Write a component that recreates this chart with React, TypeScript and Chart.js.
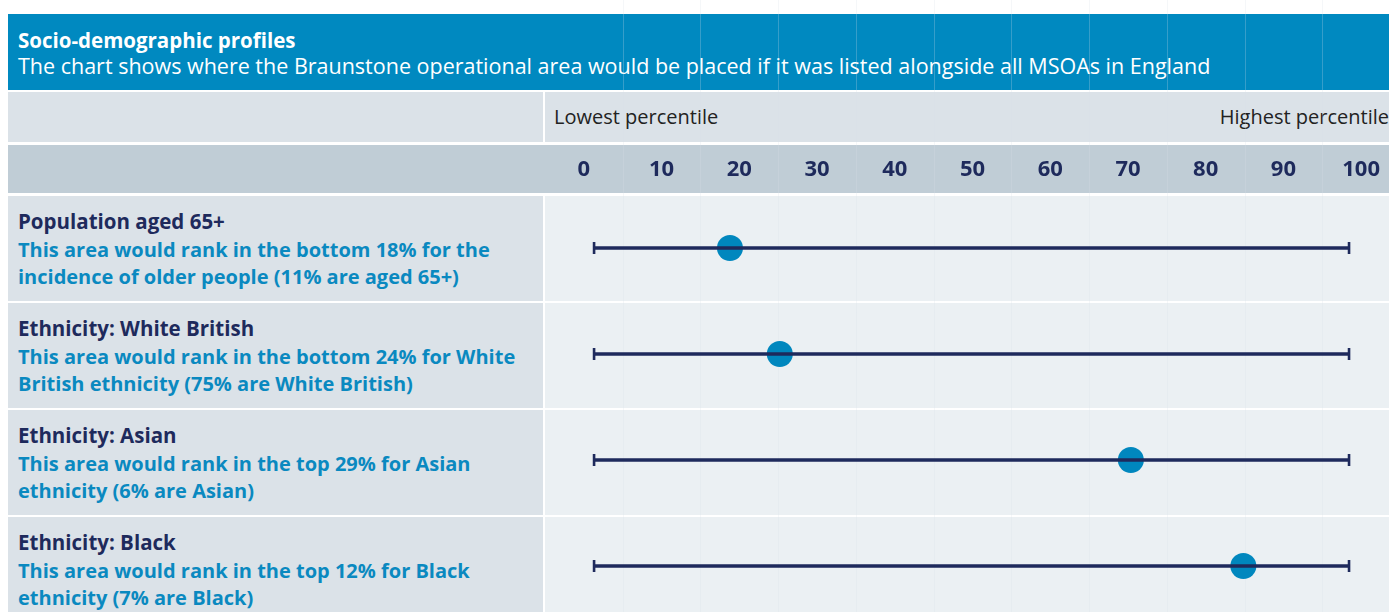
import React, { useEffect, useRef } from "react";
import { Chart, registerables } from "chart.js";

Chart.register(...registerables);

// ---- data ----
const rowKeys = ["age65", "whiteBritish", "asian", "black"];
const rowTitles = [
  "Population aged 65+",
  "Ethnicity: White British",
  "Ethnicity: Asian",
  "Ethnicity: Black",
];
const rowNotes = [
  "This area would rank in the bottom 18% for the\nincidence of older people (11% are aged 65+)",
  "This area would rank in the bottom 24% for White\nBritish ethnicity (75% are White British)",
  "This area would rank in the top 29% for Asian\nethnicity (6% are Asian)",
  "This area would rank in the top 12% for Black\nethnicity (7% are Black)",
];
const percentiles = [18, 24.6, 71.1, 86];
const rangeLow = [0, 0, 0, 0];
const rangeHigh = [100, 100, 100, 100];
const tickLabels = ["0", "10", "20", "30", "40", "50", "60", "70", "80", "90", "100"];

const titleText = "Socio-demographic profiles";
const subtitleText =
  "The chart shows where the Braunstone operational area would be placed if it was listed alongside all MSOAs in England";
const lowLabel = "Lowest percentile";
const highLabel = "Highest percentile";

// ---- style ----
const FONT = "'Open Sans', sans-serif";
const BLUE = "#0089c0";
const NAVY = "#1e2a5c";
const DOT = "#0087be";
const LIGHT = "#dbe2e8";
const TICKROW = "#c0cdd6";
const CELL = "#ebf0f3";

const ROW_TOP = 196;
const ROW_PITCH = 107;
const ROW_H = 105;

const faintLines = {
  id: "faintLines",
  beforeDatasetsDraw(chart: any) {
    const s = chart.scales.xTicks;
    if (!s) return;
    const n = s.ticks.length;
    const w = s.getPixelForTick(1) - s.getPixelForTick(0);
    const ctx = chart.ctx;
    ctx.save();
    ctx.strokeStyle = "rgba(215,224,231,0.25)";
    ctx.lineWidth = 1;
    for (let i = 1; i <= n; i++) {
      const x = Math.round(s.getPixelForTick(0) - w / 2 + i * w) + 0.5;
      ctx.beginPath();
      ctx.moveTo(x, 0);
      ctx.lineTo(x, chart.height);
      ctx.stroke();
    }
    ctx.restore();
  },
};

export default function App() {
  const ref = useRef<HTMLCanvasElement | null>(null);

  useEffect(() => {
    document.documentElement.style.overflow = "hidden";
    document.body.style.overflow = "hidden";
    if (!ref.current) return;
    const chart = new Chart(ref.current, {
      type: "bar",
      data: {
        labels: rowKeys,
        datasets: [
          {
            type: "bar",
            indexAxis: "y",
            xAxisID: "x",
            yAxisID: "y",
            data: rowKeys.map((_, i) => [rangeLow[i], rangeHigh[i]]),
            backgroundColor: NAVY,
            barThickness: 2.6,
            borderWidth: 0,
          } as any,
          {
            type: "scatter",
            xAxisID: "x",
            yAxisID: "y",
            data: rowKeys.flatMap((k, i) => [
              { x: rangeLow[i], y: k },
              { x: rangeHigh[i], y: k },
            ]),
            pointStyle: "line",
            rotation: 90,
            radius: 6,
            hoverRadius: 6,
            borderColor: NAVY,
            borderWidth: 2.6,
          } as any,
          {
            type: "scatter",
            xAxisID: "x",
            yAxisID: "y",
            data: rowKeys.map((k, i) => ({ x: percentiles[i], y: k })),
            pointStyle: "circle",
            radius: 13,
            hoverRadius: 13,
            backgroundColor: DOT,
            borderWidth: 0,
          } as any,
        ],
      },
      options: {
        animation: false,
        responsive: false,
        events: [],
        layout: { autoPadding: false, padding: { top: 145, bottom: 6, left: 0, right: 0 } },
        plugins: { legend: { display: false }, tooltip: { enabled: false } },
        scales: {
          x: {
            type: "linear",
            min: -6.5,
            max: 106.75,
            offset: false,
            grid: { offset: false },
            display: false,
          },
          y: { type: "category", labels: rowKeys, offset: true, display: false },
          xTicks: {
            type: "category",
            position: "top",
            labels: tickLabels,
            offset: true,
            grid: { display: false },
            border: { display: false },
            ticks: {
              color: NAVY,
              padding: 4,
              maxRotation: 0,
              autoSkip: false,
              font: { family: FONT, size: 22, weight: "bold" },
            },
            afterFit: (s: any) => {
              s.height = 50;
              s.paddingLeft = 0;
              s.paddingRight = 0;
            },
          } as any,
        },
      },
      plugins: [faintLines],
    });
    return () => chart.destroy();
  }, []);

  const abs = (l: number, t: number, w: number, h: number, bg: string): React.CSSProperties => ({
    position: "absolute",
    left: l,
    top: t,
    width: w,
    height: h,
    background: bg,
  });

  return (
    <div
      style={{
        position: "fixed",
        left: 0,
        top: 0,
        width: 1400,
        height: 625,
        background: "#fff",
        fontFamily: FONT,
        overflow: "hidden",
      }}
    >
      {/* header */}
      <div style={abs(8, 14, 1392, 76, BLUE)} />
      <div
        style={{
          position: "absolute",
          left: 18,
          top: 27,
          fontSize: 20.5,
          lineHeight: "26px",
          fontWeight: 700,
          color: "#fff",
          whiteSpace: "nowrap",
        }}
      >
        {titleText}
      </div>
      <div
        style={{
          position: "absolute",
          left: 18,
          top: 53,
          fontSize: 21.5,
          lineHeight: "26px",
          color: "#fff",
          whiteSpace: "nowrap",
        }}
      >
        {subtitleText}
      </div>

      {/* lowest / highest row */}
      <div style={abs(8, 92, 535, 50, LIGHT)} />
      <div style={abs(545, 92, 855, 50, LIGHT)} />
      <div
        style={{
          position: "absolute",
          left: 554,
          top: 104,
          fontSize: 20,
          lineHeight: "26px",
          color: "#222",
          whiteSpace: "nowrap",
        }}
      >
        {lowLabel}
      </div>
      <div
        style={{
          position: "absolute",
          right: 11,
          top: 104,
          fontSize: 20,
          lineHeight: "26px",
          color: "#222",
          whiteSpace: "nowrap",
        }}
      >
        {highLabel}
      </div>

      {/* tick row */}
      <div style={abs(8, 145, 1392, 48, TICKROW)} />

      {/* data rows */}
      {rowKeys.map((k, i) => (
        <React.Fragment key={k}>
          <div style={abs(8, ROW_TOP + i * ROW_PITCH, 535, ROW_H, LIGHT)} />
          <div style={abs(545, ROW_TOP + i * ROW_PITCH, 855, ROW_H, CELL)} />
          <div
            style={{
              position: "absolute",
              left: 18,
              top: ROW_TOP + i * ROW_PITCH + 12,
              lineHeight: "27.5px",
              fontWeight: 700,
              whiteSpace: "pre-line",
            }}
          >
            <div style={{ color: NAVY, fontSize: 20.5 }}>{rowTitles[i]}</div>
            <div style={{ color: "#0a89c0", fontSize: 20 }}>{rowNotes[i]}</div>
          </div>
        </React.Fragment>
      ))}

      <canvas
        ref={ref}
        width={855}
        height={625}
        style={{ position: "absolute", left: 545, top: 0, width: 855, height: 625 }}
      />
    </div>
  );
}
